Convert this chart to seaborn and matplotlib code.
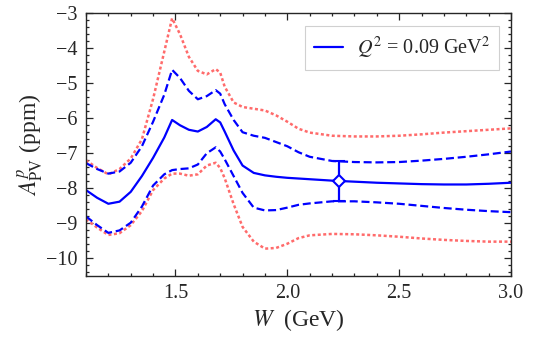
import seaborn as sns
import matplotlib.pyplot as plt
from matplotlib.ticker import MultipleLocator

sns.set_style('ticks')
plt.rcParams['font.family'] = ['Liberation Serif', 'DejaVu Serif']
plt.rcParams['mathtext.fontset'] = 'stix'

# W grid (GeV) and the five asymmetry curves (ppm)
w = [1.10, 1.15, 1.20, 1.25, 1.30, 1.35, 1.40, 1.45, 1.485, 1.52, 1.56,
     1.60, 1.64, 1.68, 1.70, 1.72, 1.76, 1.80, 1.85, 1.90, 1.95, 2.00,
     2.05, 2.10, 2.20, 2.30, 2.40, 2.50, 2.60, 2.70, 2.80, 2.90, 3.00]
central = [-8.05, -8.27, -8.44, -8.38, -8.10, -7.65, -7.13, -6.55, -6.05, -6.20, -6.33,
           -6.38, -6.25, -6.03, -6.12, -6.38, -6.92, -7.35, -7.56, -7.63, -7.67, -7.70,
           -7.72, -7.74, -7.78, -7.81, -7.84, -7.86, -7.88, -7.89, -7.89, -7.87, -7.84]
upper_band = [-7.28, -7.45, -7.58, -7.52, -7.27, -6.80, -6.10, -5.33, -4.62, -4.85, -5.22,
              -5.46, -5.37, -5.20, -5.30, -5.60, -6.05, -6.40, -6.50, -6.56, -6.68, -6.80,
              -6.97, -7.10, -7.22, -7.25, -7.26, -7.25, -7.21, -7.16, -7.10, -7.03, -6.95]
lower_band = [-8.80, -9.05, -9.27, -9.20, -8.98, -8.52, -7.92, -7.60, -7.48, -7.45, -7.43,
              -7.32, -7.00, -6.83, -6.95, -7.17, -7.65, -8.13, -8.55, -8.63, -8.62, -8.55,
              -8.47, -8.43, -8.37, -8.37, -8.40, -8.44, -8.50, -8.56, -8.61, -8.65, -8.68]
upper_outer = [-7.20, -7.42, -7.60, -7.45, -7.15, -6.60, -5.45, -4.10, -3.15, -3.60, -4.25,
               -4.65, -4.75, -4.60, -4.70, -5.10, -5.55, -5.68, -5.73, -5.78, -5.92, -6.10,
               -6.30, -6.41, -6.50, -6.52, -6.52, -6.50, -6.46, -6.41, -6.37, -6.33, -6.29]
lower_outer = [-8.88, -9.12, -9.33, -9.28, -9.05, -8.65, -8.05, -7.72, -7.58, -7.58, -7.64,
               -7.60, -7.35, -7.27, -7.42, -7.71, -8.45, -9.10, -9.52, -9.72, -9.70, -9.58,
               -9.42, -9.34, -9.30, -9.31, -9.34, -9.38, -9.43, -9.47, -9.50, -9.52, -9.52]

# data point
w_data = [2.23]
a_data = [-7.80]
a_err = [0.57]

fig = plt.figure(figsize=(5.54, 3.46), dpi=100)
ax = fig.add_axes([0.1552, 0.2023, 0.7672, 0.7601])

red = '#ff6b6b'
blue = '#0000ff'
for band in (upper_outer, lower_outer):
    sns.lineplot(x=w, y=band, ax=ax, color=red, lw=1.8, linestyle=(0, (1.2, 1.0)))
for band in (upper_band, lower_band):
    sns.lineplot(x=w, y=band, ax=ax, color=blue, lw=1.6, linestyle=(0, (3.6, 1.7)))
sns.lineplot(x=w, y=central, ax=ax, color=blue, lw=1.6,
             label=r'$Q^2$ = 0.09 GeV$^2$')

ax.errorbar(w_data, a_data, yerr=a_err, fmt='D', color=blue, mfc='white',
            mec=blue, mew=1.5, ms=6, elinewidth=1.6, capsize=4, capthick=1.6, zorder=5)

ax.set_xlim(1.1, 3.0)
ax.set_ylim(-10.5, -3)
ax.xaxis.set_major_locator(MultipleLocator(0.5))
ax.xaxis.set_minor_locator(MultipleLocator(0.1))
ax.yaxis.set_major_locator(MultipleLocator(1))
ax.yaxis.set_minor_locator(MultipleLocator(0.2))
ax.tick_params(which='both', direction='in', top=True, right=True, labelsize=14.5, width=0.9)
ax.tick_params(which='major', length=5, pad=6)
ax.tick_params(which='minor', length=2.5)
for s in ax.spines.values():
    s.set_linewidth(1.0)

ax.set_xlabel(r'$W$  (GeV)', fontsize=17, labelpad=3)
ax.set_ylabel(r'$A^{p}_{\mathrm{PV}}$ (ppm)', fontsize=17, labelpad=1)

leg = ax.legend(loc='upper right', bbox_to_anchor=(0.972, 0.952), borderaxespad=0,
                fontsize=14.5, handlelength=1.4, fancybox=False, framealpha=1,
                edgecolor='#d0d0d0', borderpad=0.45, handletextpad=0.7)
leg.get_frame().set_linewidth(0.8)

fig.savefig('out.png', dpi=100)
